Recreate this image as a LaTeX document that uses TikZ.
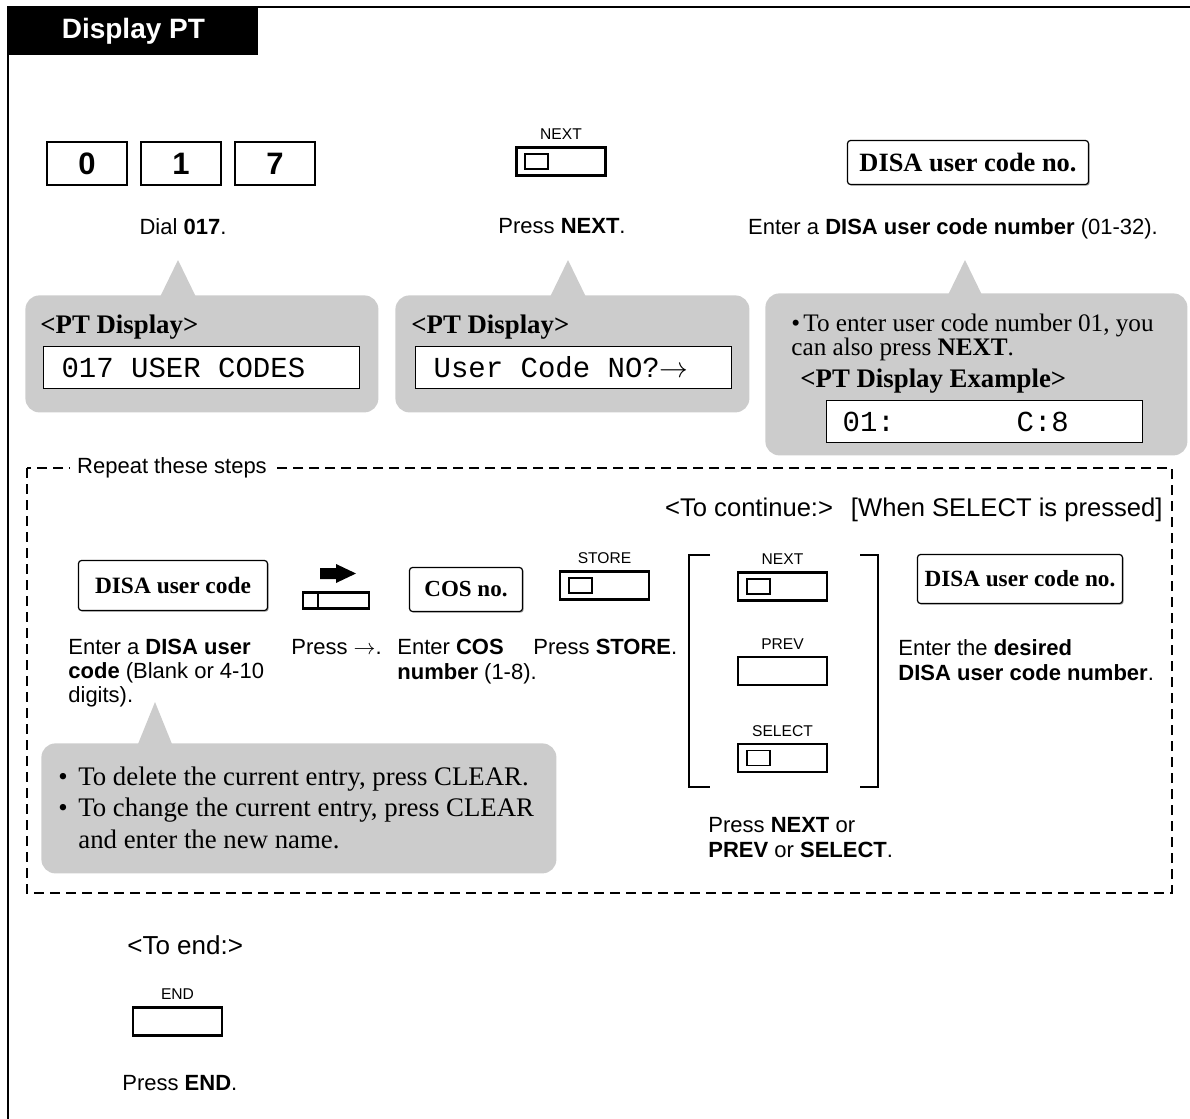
\documentclass[tikz,border=0pt]{standalone}
\usepackage{fontspec}
\setmainfont{Liberation Sans}
\setmonofont{Liberation Mono}
\newfontfamily\tms{Liberation Serif}
\usepackage{tikz}
\usetikzlibrary{positioning,calc,shadows}
\definecolor{bubGray}{RGB}{204,204,204}
\tikzset{
  frame/.style={line width=1.2pt},
  hdr/.style={fill=black, text=white, anchor=north west, minimum width=125pt,
              minimum height=24pt, inner sep=0pt, font=\fontsize{14}{16}\selectfont\bfseries},
  txt/.style={inner sep=0pt, align=left, font=\fontsize{11}{12}\selectfont},
  hd/.style={inner sep=0pt, font=\fontsize{12.8}{14}\selectfont},
  dial/.style={draw, line width=1pt, minimum width=40pt, minimum height=21.5pt,
               inner sep=0pt, font=\fontsize{15.5}{16}\selectfont\bfseries},
  key/.style={draw, line width=1.3pt, minimum width=44.5pt, minimum height=14pt, inner sep=0pt},
  lamp/.style={draw, line width=0.9pt, minimum width=11.5pt, minimum height=7.5pt,
               inner sep=0pt, anchor=west},
  keylbl/.style={inner sep=0pt, font=\fontsize{7.8}{9}\selectfont},
  entry/.style={draw, fill=white, line width=0.6pt, rounded corners=1.5pt, inner sep=0pt,
                drop shadow={shadow xshift=0.6pt, shadow yshift=-0.6pt, opacity=0.7}},
  bub/.style={fill=bubGray, rounded corners=7pt, anchor=north west, inner sep=0pt},
  btxt/.style={inner sep=0pt, align=left, font=\tms\fontsize{12.6}{11.6}\selectfont},
  bhd/.style={inner sep=0pt, font=\tms\fontsize{13.4}{15}\selectfont\bfseries},
  lcd/.style={draw, fill=white, line width=0.6pt, anchor=north west, minimum height=21pt,
              text width=140pt, inner xsep=9pt, inner ysep=0pt, align=left,
              font=\ttfamily\fontsize{14.5}{16}\selectfont},
  dashbox/.style={line width=1pt, dash pattern=on 5pt off 3pt},
  brk/.style={line width=0.6pt},
}
\newcommand{\PTKey}[3]{% {name}{at}{label}
  \node[key] (#1) at (#2) {};
  \node[keylbl, above=3pt of #1] (#1-lbl) {#3};}
\newcommand{\Lamp}[1]{%
  \node[lamp, right=4.5pt of #1.west] (#1-lamp) {};}
\newcommand{\lsp}{\hspace*{0.6em}}% one display cell

\begin{document}
\begin{tikzpicture}[x=0.5pt, y=-0.5pt]
  \useasboundingbox (0,0) rectangle (1190,1119);
  % frame and title tab
  \draw[frame] (1190,7) -- (8,7) -- (8,1119);
  \node[hdr] (hdr) at (8,7) {Display PT};

  % step 1: dial the program number
  \node[dial] (k0) at (87,163.5) {0};
  \node[dial, right=6pt of k0] (k1) {1};
  \node[dial, right=6pt of k1] (k7) {7};
  \node[txt, anchor=north] (t1) at (183,218) {Dial \textbf{017}.};

  % step 2
  \PTKey{nx}{561,161.5}{NEXT}
  \Lamp{nx}
  \node[txt, anchor=north] (t2) at (562,218) {Press \textbf{NEXT}.};

  % step 3
  \node[entry, minimum width=120.5pt, minimum height=22pt,
        font=\tms\bfseries\fontsize{13.2}{14}\selectfont] (ucn) at (968,162.5) {DISA user code no.};
  \node[txt, anchor=north] (t3) at (953,218) {Enter a \textbf{DISA user code number} (01-32).};

  % display bubbles
  \node[bub, minimum width=176.5pt, minimum height=58.5pt] (b1) at (25,295) {};
  \fill[bubGray] (178,260) -- ++(-18,37) -- ++(36,0) -- cycle;
  \node[bhd, anchor=north west] (b1h) at (40,315) {<PT Display>};
  \node[lcd] (lcd1) at (43,346) {017\lsp USER\lsp CODES};

  \node[bub, minimum width=177pt, minimum height=58.5pt] (b2) at (395,295) {};
  \fill[bubGray] (568,260) -- ++(-18,37) -- ++(36,0) -- cycle;
  \node[bhd, anchor=north west] (b2h) at (411,315) {<PT Display>};
  \node[lcd] (lcd2) at (415,346) {User\lsp Code\lsp NO?$\rightarrow$};

  \node[bub, minimum width=211pt, minimum height=81pt] (b3) at (765,293) {};
  \fill[bubGray] (965,260) -- ++(-17,35) -- ++(34,0) -- cycle;
  \node[btxt, anchor=north west] (b3t) at (791,314)
    {\makebox[6pt][l]{•}To enter user code number 01, you\\can also press \textbf{NEXT}.};
  \node[bhd, anchor=north west] (b3h) at (800,369) {<PT Display Example>};
  \node[lcd, inner xsep=8pt, text width=142pt] (lcd3) at (826,400)
    {01:\lsp\lsp\lsp\lsp\lsp\lsp\lsp C:8};

  % repeated steps
  \draw[dashbox] (27,468) rectangle (1172,893);
  \node[txt, fill=white, inner xsep=3.5pt] (rep) at (172,468) {Repeat these steps};
  \node[hd, anchor=north east] (cont) at (1163,498) {<To continue:>\hspace{0.7em}[When SELECT is pressed]};

  \node[entry, minimum width=94.5pt, minimum height=25pt,
        font=\tms\bfseries\fontsize{11.7}{13}\selectfont] (uc) at (173,585.5) {DISA user code};
  \node[txt, anchor=north west] (t4) at (68,639)
    {Enter a \textbf{DISA user}\\\textbf{code} (Blank or 4-10\\digits).};

  \node[draw, line width=1.1pt, minimum width=33pt, minimum height=8pt, inner sep=0pt] (cur) at (336,600.5) {};
  \draw[line width=1.1pt] ($(cur.north west)+(16,0)$) -- ($(cur.south west)+(16,0)$);
  \fill (320,568) -- (336,568) -- (336,564) -- (356,573.5) -- (336,583) -- (336,579) -- (320,579) -- cycle;
  \node[txt, anchor=north west] (t5) at (291,639) {Press $\rightarrow$.};

  \node[entry, minimum width=56.5pt, minimum height=22pt,
        font=\tms\bfseries\fontsize{11.5}{13}\selectfont] (cos) at (466,589.5) {COS no.};
  \node[txt, anchor=north west, font=\fontsize{11}{12.5}\selectfont] (t6) at (397,639)
    {Enter \textbf{COS}\\\textbf{number} (1-8).};

  \PTKey{st}{604.5,585.5}{STORE}
  \Lamp{st}
  \node[txt, anchor=north west] (t7) at (533,639) {Press \textbf{STORE}.};

  % NEXT / PREV / SELECT choice
  \draw[brk] (710,555) -- (689,555) -- (689,787) -- (710,787);
  \draw[brk] (860,555) -- (878,555) -- (878,787) -- (860,787);
  \PTKey{nx2}{782.5,586.5}{NEXT}
  \Lamp{nx2}
  \PTKey{pv}{782.5,671}{PREV}
  \PTKey{sl}{782.5,758}{SELECT}
  \Lamp{sl}
  \node[txt, anchor=north west, font=\fontsize{11}{12.5}\selectfont] (t8) at (708,817)
    {Press \textbf{NEXT} or\\\textbf{PREV} or \textbf{SELECT}.};

  \node[entry, minimum width=102.5pt, minimum height=24.5pt,
        font=\tms\bfseries\fontsize{11.6}{13}\selectfont] (ucn2) at (1020,579) {DISA user code no.};
  \node[txt, anchor=north west, font=\fontsize{11}{12.5}\selectfont] (t9) at (898,639)
    {Enter the \textbf{desired}\\\textbf{DISA user code number}.};

  % note bubble
  \node[bub, minimum width=257.5pt, minimum height=65pt] (b4) at (41,743) {};
  \fill[bubGray] (155,702) -- ++(-17,42) -- ++(34,0) -- cycle;
  \node[btxt, anchor=north west, font=\tms\fontsize{13.4}{15.75}\selectfont] (b4t) at (58,766)
    {\makebox[10pt][l]{•}To delete the current entry, press CLEAR.\\
     \makebox[10pt][l]{•}To change the current entry, press CLEAR\\
     \hspace*{10pt}and enter the new name.};

  % end
  \node[hd, anchor=north west, font=\fontsize{13}{14}\selectfont] (endh) at (127,935) {<To end:>};
  \PTKey{en}{177.5,1021.5}{END}
  \node[txt, anchor=north west] (t10) at (122,1075) {Press \textbf{END}.};
\end{tikzpicture}
\end{document}
